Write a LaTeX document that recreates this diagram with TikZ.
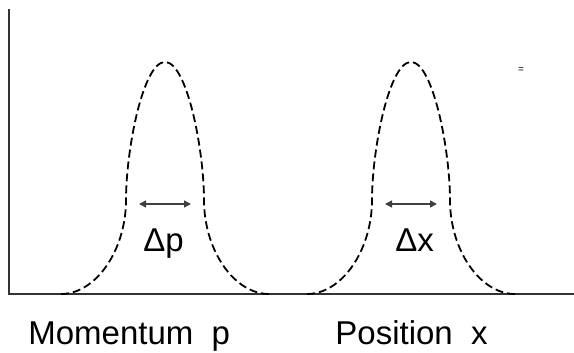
\documentclass[tikz,border=0pt]{standalone}
\usepackage{fontspec}
\setmainfont{Liberation Sans}
\usetikzlibrary{arrows.meta, positioning}

\begin{document}
\begin{tikzpicture}[x=0.5pt, y=-0.5pt,
    axis/.style={line width=0.8pt, black!80},
    bell/.style={line width=0.9pt, dash pattern=on 4pt off 2pt},
    arr/.style={{Triangle[length=3.5pt, width=3.5pt]}-{Triangle[length=3.5pt, width=3.5pt]}, line width=0.7pt, black!75},
    lbl/.style={font=\fontsize{16.5}{19}\selectfont, inner sep=0pt}
  ]
  \useasboundingbox (0,0) rectangle (574,353);

  % Axes
  \coordinate (top) at (9,9);
  \coordinate (origin) at (9,294);
  \coordinate (end) at (574,294);
  \draw[axis] (top) -- (origin) -- (end);

  % Bells and widths
  \foreach \c/\n in {165/p, 411/x}{
    \draw[bell] (\c-104,294) .. controls (\c-69,294) and (\c-39,250) .. (\c-39,200)
      .. controls (\c-39,150) and (\c-22,62) .. (\c,62)
      .. controls (\c+22,62) and (\c+39,150) .. (\c+39,200)
      .. controls (\c+39,250) and (\c+69,294) .. (\c+104,294);
    \coordinate (\n l) at (\c-26,204);
    \coordinate (\n r) at (\c+26,204);
    \draw[arr] (\n l) -- (\n r);
  }

  % Labels
  \node[lbl, anchor=base west] (dp) at (143,252) {Δp};
  \node[lbl, anchor=base west] (dx) at (395,252) {Δx};
  \node[lbl, anchor=base west] (mom) at (28,344) {Momentum~~p};
  \node[lbl, anchor=base west] (pos) at (335,344) {Position~~x};
  \node[font=\fontsize{5}{6}\selectfont, inner sep=0pt] (eq) at (521,70) {=};
\end{tikzpicture}
\end{document}
